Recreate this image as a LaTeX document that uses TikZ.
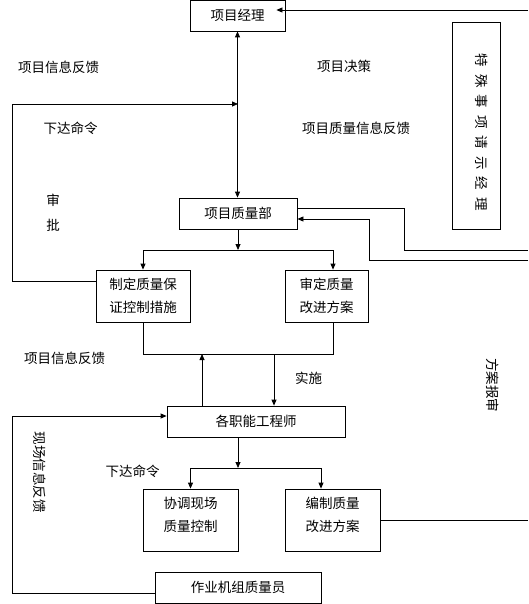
\documentclass[tikz,border=0pt]{standalone}
\usepackage{fontspec}
\setmainfont{Noto Sans CJK SC}
\usetikzlibrary{arrows.meta}

\begin{document}
\begin{tikzpicture}[x=1pt,y=-1pt,line width=0.8pt,font=\fontsize{13.5}{23}\selectfont,
      >={Triangle[length=6pt,width=5pt]},
      blk/.style={draw,align=center,inner sep=1pt,minimum height=31pt}]
    \useasboundingbox (0,0) rectangle (528,604);
    % --- boxes ---
    \node[blk,minimum width=95pt] (mgr) at (237.5,15.5) {项目经理};
    \node[blk,minimum width=48pt,minimum height=207pt] (spec) at (476,125.5) {};
    \node[rotate=-90] (spectxt) at (482,132.5)
      {特\hspace{7pt}殊\hspace{7pt}事\hspace{7pt}项\hspace{7pt}请\hspace{7pt}示\hspace{7pt}经\hspace{7pt}理};
    \node[blk,minimum width=118pt] (qdept) at (238,213.5) {项目质量部};
    \node[blk,minimum width=94pt,minimum height=52pt] (meas) at (143,296) {制定质量保\\证控制措施};
    \node[blk,minimum width=83pt,minimum height=52pt] (rev) at (326.5,296) {审定质量\\改进方案};
    \node[blk,minimum width=178pt] (eng) at (256,421.5) {各职能工程师};
    \node[blk,minimum width=95pt,minimum height=62pt] (coord) at (190.5,520) {};
    \node[align=center] (coordtxt) at (190.5,515) {协调现场\\质量控制};
    \node[blk,minimum width=95pt,minimum height=62pt] (plan) at (332.5,520) {};
    \node[align=center] (plantxt) at (332.5,515) {编制质量\\改进方案};
    \node[blk,minimum width=166pt] (crew) at (238,587.5) {作业机组质量员};
    % --- labels ---
    \node (fb1) at (58.5,67) {项目信息反馈};
    \node (dec) at (344,66) {项目决策};
    \node (cmd1) at (70.5,128) {下达命令};
    \node (qfb) at (356,128) {项目质量信息反馈};
    \node (appr1) at (53,200) {审};
    \node (appr2) at (53,225) {批};
    \node (fb2) at (64.5,358) {项目信息反馈};
    \node (impl) at (308.5,378) {实施};
    \node[rotate=-90] (sub) at (493,385) {方案报审};
    \node[rotate=-90] (site) at (40,472) {现场信息反馈};
    \node (cmd2) at (132.5,471) {下达命令};
    % --- connectors ---
    \coordinate (j0) at (238,104);
    \coordinate (j1) at (238,250);
    \coordinate (j2) at (238,468);
    \draw[->] (528,10) -- ([xshift=-9pt,yshift=5.5pt]mgr.east);
    \draw[<->] (mgr.south) -- (mgr.south |- qdept.north);
    \draw[->] ([yshift=15pt]meas.west) -| (12,104) -- (j0);
    \draw ([yshift=5.5pt]qdept.east) -| (404,250) -- (528,250);
    \draw[->] (528,260) -- (369,260) |- ([yshift=-5.5pt]qdept.east);
    \draw[->] (qdept.south) -- (j1);
    \draw[->] (j1) -| (meas.north);
    \draw[->] (j1) -| ([xshift=6.5pt]rev.north);
    \draw (meas.south) |- (333,354) -- ([xshift=6.5pt]rev.south);
    \draw[->] ([xshift=-54pt]eng.north) -- (202,354);
    \draw[->] (274,354) -- ([xshift=18pt]eng.north);
    \draw[->] ([yshift=-5.5pt]crew.west) -| (12,416) -- ([yshift=5.5pt]eng.west);
    \draw[->] ([xshift=-18pt]eng.south) -- (j2);
    \draw[->] (j2) -| (coord.north);
    \draw[->] (j2) -| ([xshift=-11.5pt]plan.north);
    \draw (plan.east) -- (528,520);
\end{tikzpicture}
\end{document}
